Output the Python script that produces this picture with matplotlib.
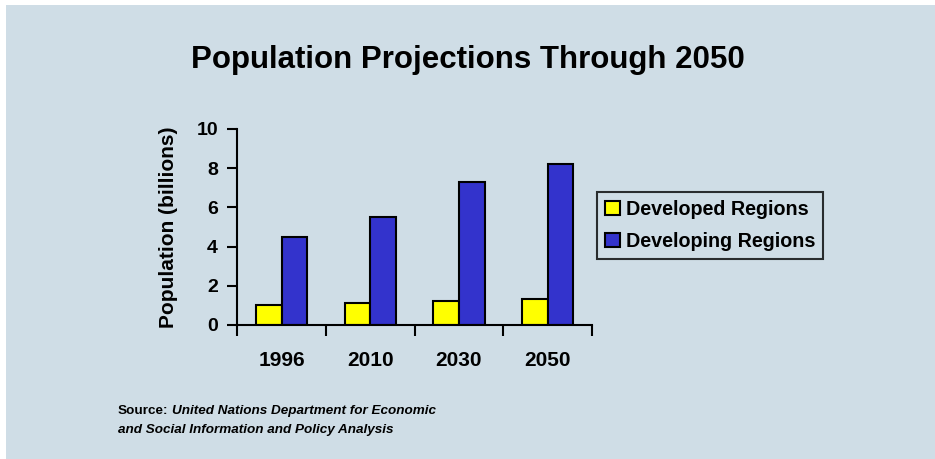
import numpy as np
import matplotlib
matplotlib.use("Agg")
import matplotlib.pyplot as plt
from matplotlib.patches import Rectangle

years = ["1996", "2010", "2030", "2050"]
developed = [1.0, 1.1, 1.2, 1.3]
developing = [4.5, 5.5, 7.3, 8.2]
series_names = ["Developed Regions", "Developing Regions"]

BG = "#cfdde6"
plt.rcParams["font.family"] = ["Liberation Sans", "DejaVu Sans"]

fig = plt.figure(figsize=(9.35, 4.59), dpi=100)
fig.patch.set_facecolor("white")
fig.add_artist(Rectangle((6 / 935, 0), 1, 1 - 5 / 459, transform=fig.transFigure,
                         facecolor=BG, edgecolor="none", zorder=-10))

ax = fig.add_axes([0.254, 0.292, 0.379, 0.427])
ax.set_facecolor("none")

x = np.arange(len(years))
w = 0.29
ax.bar(x - w / 2, developed, w, color="#ffff00", edgecolor="black", linewidth=1.5,
       label=series_names[0])
ax.bar(x + w / 2, developing, w, color="#3333cc", edgecolor="black", linewidth=1.5,
       label=series_names[1])

ax.set_xlim(-0.5, len(years) - 0.5)
ax.set_ylim(0, 10)
ax.set_yticks([0, 2, 4, 6, 8, 10])
ax.set_xticks(np.arange(len(years) + 1) - 0.5)
ax.set_xticklabels([])
ax.set_xticks(x, minor=True)
ax.set_xticklabels(years, minor=True, fontsize=15, fontweight="bold")
ax.tick_params(axis="x", which="major", direction="out", length=8, width=1.5)
ax.tick_params(axis="x", which="minor", length=0, pad=19)
ax.tick_params(axis="y", direction="out", length=7, width=1.5, labelsize=14, pad=7)
for lab in ax.get_yticklabels():
    lab.set_fontweight("bold")

for s in ["top", "right"]:
    ax.spines[s].set_visible(False)
for s in ["left", "bottom"]:
    ax.spines[s].set_linewidth(1.5)

ax.set_ylabel("Population (billions)", fontsize=15, fontweight="bold", labelpad=13)

fig.text(0.5, 1 - 68 / 459, "Population Projections Through 2050", ha="center",
         va="baseline", fontsize=22.5, fontweight="bold")

leg = fig.legend(loc="upper left", bbox_to_anchor=(597 / 935, 1 - 192 / 459),
                 prop={"weight": "bold", "size": 14.2},
                 frameon=True, fancybox=False, edgecolor="black", facecolor=BG,
                 handlelength=0.75, handleheight=0.75, handletextpad=0.3,
                 borderpad=0.4, labelspacing=0.65, borderaxespad=0)
leg.get_frame().set_linewidth(1.5)

fig.text(118 / 935, 1 - 411 / 459, "Source:", fontsize=9.7, fontweight="bold", va="center")
fig.text(172 / 935, 1 - 411 / 459, "United Nations Department for Economic",
         fontsize=9.7, fontweight="bold", style="italic", va="center")
fig.text(118 / 935, 1 - 430 / 459, "and Social Information and Policy Analysis",
         fontsize=9.7, fontweight="bold", style="italic", va="center")

fig.savefig("out.png", dpi=100, facecolor=fig.get_facecolor())
